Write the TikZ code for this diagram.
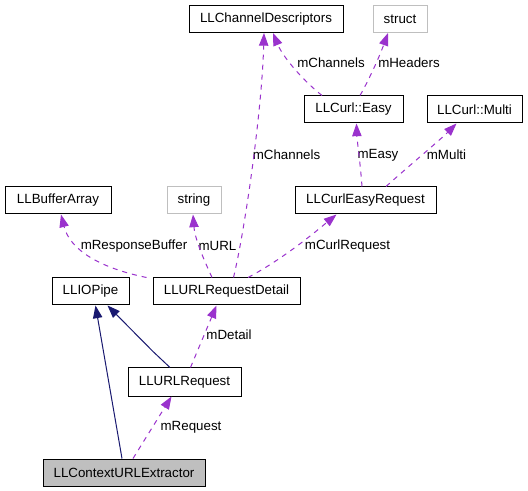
\documentclass[tikz,border=0pt]{standalone}
\usepackage{fontspec}
\setmainfont{Liberation Sans}
\usetikzlibrary{calc,arrows.meta}
\definecolor{edgepurple}{HTML}{9A32CD}
\definecolor{edgenavy}{HTML}{191970}
\definecolor{boxgray}{HTML}{BFBFBF}
\tikzset{
  cls/.style={draw=black, line width=0.75pt, inner sep=0pt, minimum height=20.25pt, font=\fontsize{10pt}{12pt}\selectfont},
  extcls/.style={cls, draw=boxgray},
  lbl/.style={inner sep=0pt, font=\fontsize{10pt}{12pt}\selectfont},
  uses/.style={draw=edgepurple, line width=0.75pt, dash pattern=on 3.75pt off 3.75pt, -{Triangle[length=9.5pt,width=7pt]}, fill=none},
  inherit/.style={draw=edgenavy, line width=0.75pt, -{Triangle[length=9.5pt,width=7pt]}},
}
\begin{document}
\begin{tikzpicture}[x=0.75pt,y=-0.75pt]
\useasboundingbox[fill=white] (0,0) rectangle (528,491);
% nodes
\node[cls, minimum width=115.5pt] (CD) at (266,19) {LLChannelDescriptors};
\node[extcls, minimum width=40.5pt] (ST) at (400,19) {struct};
\node[cls, minimum width=74.25pt] (E) at (353.5,109.5) {LLCurl::Easy};
\node[cls, minimum width=71.25pt] (M) at (474.5,109.5) {LLCurl::Multi};
\node[cls, minimum width=105.75pt] (CER) at (365.5,200.5) {LLCurlEasyRequest};
\node[cls, minimum width=79.5pt] (BA) at (58,200.5) {LLBufferArray};
\node[extcls, minimum width=40.5pt] (S) at (194,200.5) {string};
\node[cls, minimum width=57.75pt] (P) at (90.5,291.5) {LLIOPipe};
\node[cls, minimum width=110.25pt] (D) at (226.5,291.5) {LLURLRequestDetail};
\node[cls, minimum width=84.75pt, minimum height=21pt] (R) at (184.5,382) {LLURLRequest};
\node[cls, fill=boxgray, minimum width=121.5pt] (X) at (124,472.5) {LLContextURLExtractor};
% labels
\node[lbl] (l1) at (134,246) {mResponseBuffer};
\node[lbl] (l2) at (217.5,246) {mURL};
\node[lbl] (l3) at (347.5,246) {mCurlRequest};
\node[lbl] (l4) at (286.5,155) {mChannels};
\node[lbl] (l5) at (378,155) {mEasy};
\node[lbl] (l6) at (446.5,155) {mMulti};
\node[lbl] (l7) at (331,63) {mChannels};
\node[lbl] (l8) at (409,63) {mHeaders};
\node[lbl] (l9) at (229,335) {mDetail};
\node[lbl] (l10) at (191,427) {mRequest};
% edges
\draw[uses] ($(D.north west)+(-6,0)$) .. controls (100,268) and (70,250) .. ($(BA.south)+(3,0)$);
\draw[uses] ($(D.north)+(-14.5,0)$) .. controls (205,262) and (195,240) .. ($(S.south)+(-1,0)$);
\draw[uses] ($(D.north)+(7,0)$) .. controls (245,230) and (262,110) .. ($(CD.south)+(-2,0)$);
\draw[uses] ($(D.north)+(21.5,0)$) .. controls (285,258) and (320,228) .. ($(CER.south)+(-29,0)$);
\draw[uses] ($(E.north)+(-31.5,0)$) .. controls (300,78) and (282,55) .. ($(CD.south)+(7,0)$);
\draw[uses] ($(E.north)+(6.5,0)$) .. controls (370,78) and (380,55) .. ($(ST.south)+(-12,0)$);
\draw[uses] ($(CER.north)+(-3.5,0)$) .. controls (360,160) and (357,140) .. ($(E.south)+(3,0)$);
\draw[uses] ($(CER.north)+(20.5,0)$) .. controls (410,165) and (440,140) .. ($(M.south)+(-18,0)$);
\draw[uses] ($(R.north)+(6,0)$) -- ($(D.south)+(-10,0)$);
\draw[uses] ($(X.north)+(9,0)$) -- ($(R.south)+(-13,0)$);
\draw[inherit] ($(X.north)+(-2,0)$) -- ($(P.south)+(5,0)$);
\draw[inherit] ($(R.north)+(-14.5,0)$) -- ($(R.north)+(-31.5,-16)$) -- ($(P.south)+(17,0)$);
\end{tikzpicture}
\end{document}
